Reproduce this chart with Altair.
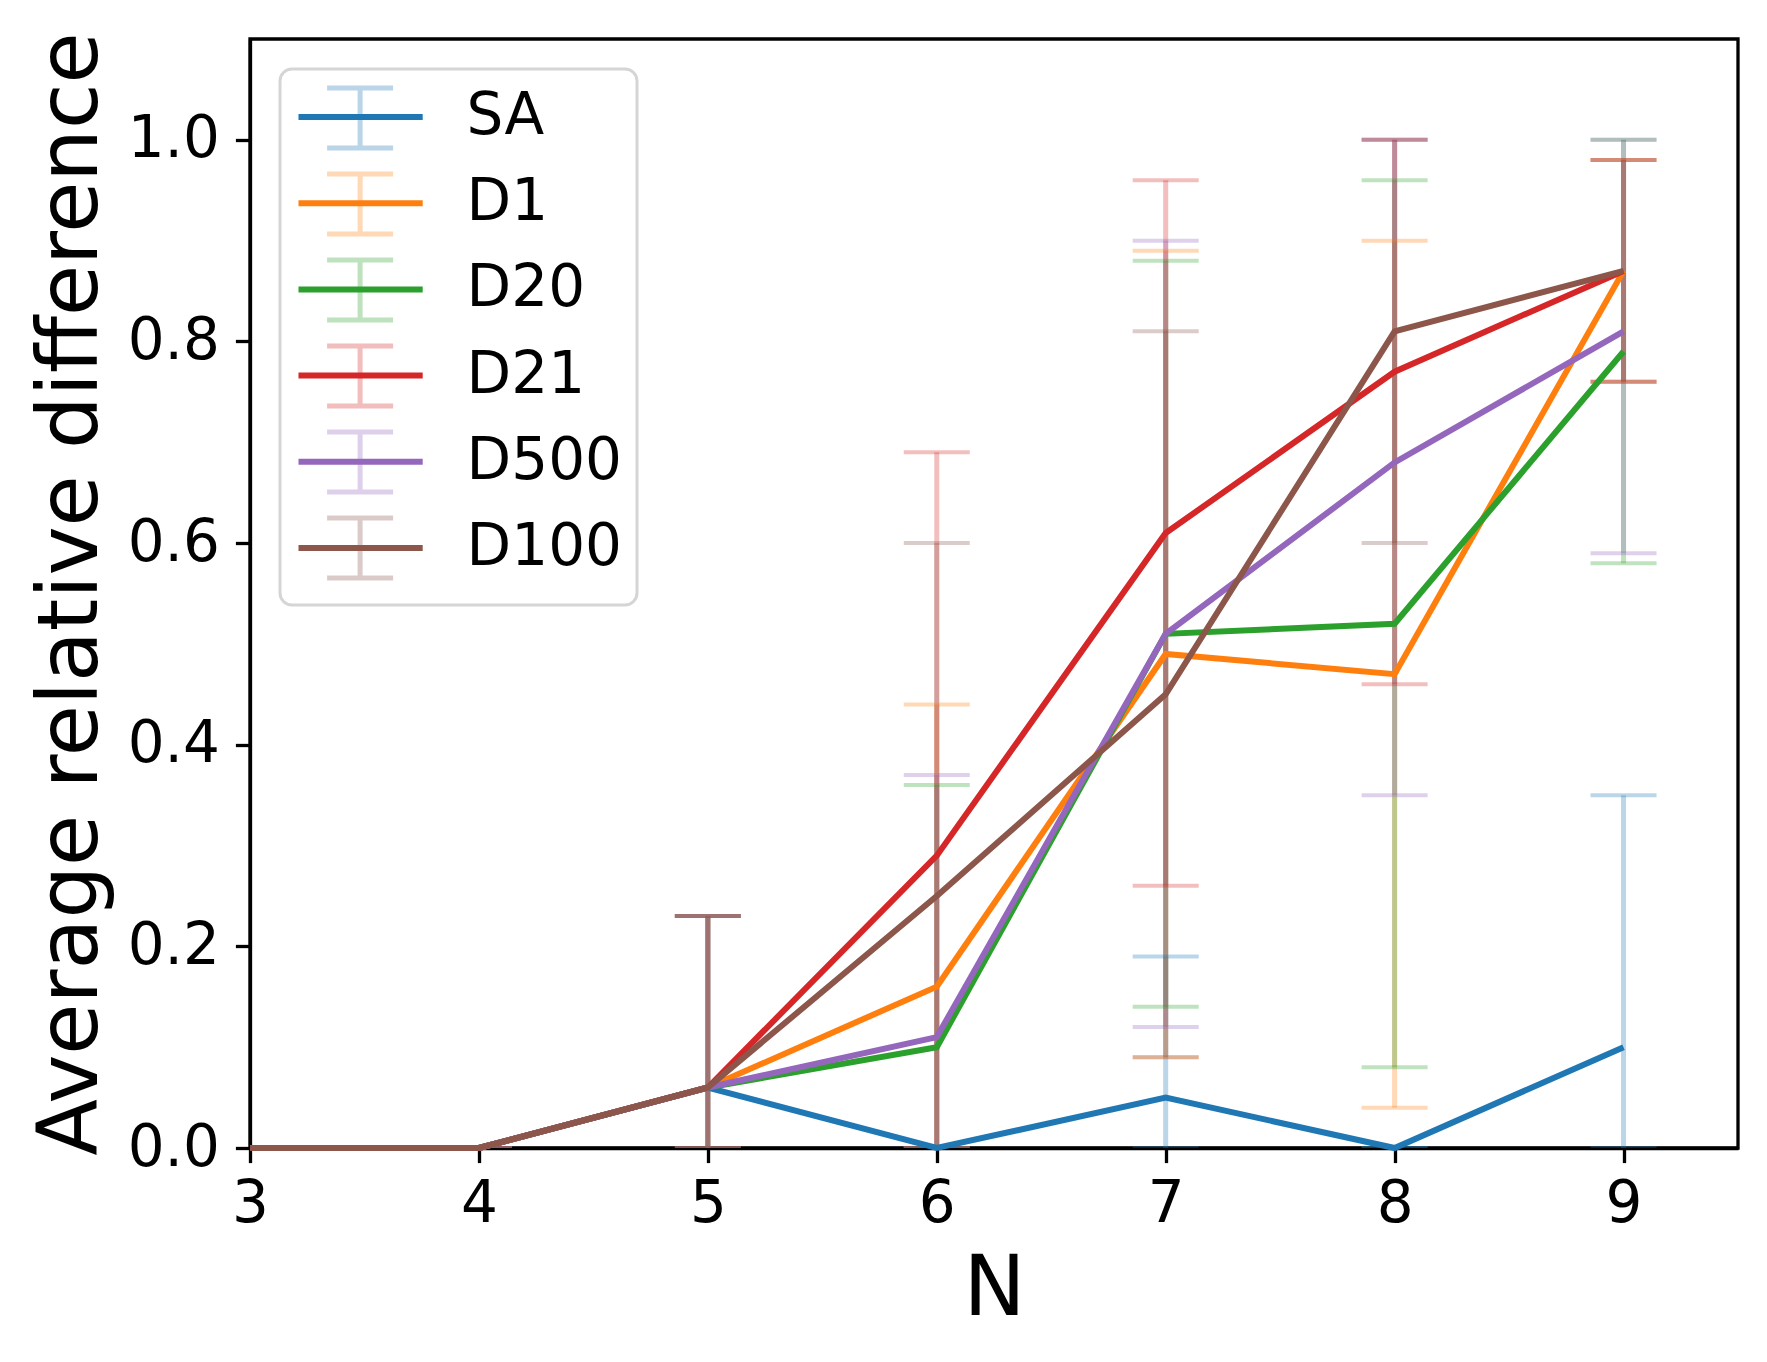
import altair as alt
import pandas as pd

# ---- data ----
N = [3, 4, 5, 6, 7, 8, 9]
series_names = ["SA", "D1", "D20", "D21", "D500", "D100"]
colors = ["#1f77b4", "#ff7f0e", "#2ca02c", "#d62728", "#9467bd", "#8c564b"]

mean_SA = [0.00, 0.00, 0.06, 0.00, 0.05, 0.00, 0.10]
lo_SA = [0.00, 0.00, 0.00, 0.00, 0.00, 0.00, 0.00]
hi_SA = [0.00, 0.00, 0.23, 0.00, 0.19, 0.00, 0.35]

mean_D1 = [0.00, 0.00, 0.06, 0.16, 0.49, 0.47, 0.87]
lo_D1 = [0.00, 0.00, 0.00, 0.00, 0.09, 0.04, 0.76]
hi_D1 = [0.00, 0.00, 0.23, 0.44, 0.89, 0.90, 0.98]

mean_D20 = [0.00, 0.00, 0.06, 0.10, 0.51, 0.52, 0.79]
lo_D20 = [0.00, 0.00, 0.00, 0.00, 0.14, 0.08, 0.58]
hi_D20 = [0.00, 0.00, 0.23, 0.36, 0.88, 0.96, 1.00]

mean_D21 = [0.00, 0.00, 0.06, 0.29, 0.61, 0.77, 0.87]
lo_D21 = [0.00, 0.00, 0.00, 0.00, 0.26, 0.46, 0.76]
hi_D21 = [0.00, 0.00, 0.23, 0.69, 0.96, 1.00, 0.98]

mean_D500 = [0.00, 0.00, 0.06, 0.11, 0.51, 0.68, 0.81]
lo_D500 = [0.00, 0.00, 0.00, 0.00, 0.12, 0.35, 0.59]
hi_D500 = [0.00, 0.00, 0.23, 0.37, 0.90, 1.00, 1.00]

mean_D100 = [0.00, 0.00, 0.06, 0.25, 0.45, 0.81, 0.87]
lo_D100 = [0.00, 0.00, 0.00, 0.00, 0.09, 0.60, 0.76]
hi_D100 = [0.00, 0.00, 0.23, 0.60, 0.81, 1.00, 0.98]

x_ticks = [3, 4, 5, 6, 7, 8, 9]
y_ticks = [0.0, 0.2, 0.4, 0.6, 0.8, 1.0]

means = [mean_SA, mean_D1, mean_D20, mean_D21, mean_D500, mean_D100]
los = [lo_SA, lo_D1, lo_D20, lo_D21, lo_D500, lo_D100]
his = [hi_SA, hi_D1, hi_D20, hi_D21, hi_D500, hi_D100]

rows = []
for k, name in enumerate(series_names):
    for n, m, lo, hi in zip(N, means[k], los[k], his[k]):
        rows.append({"series": name, "N": n, "mean": m, "lo": lo, "hi": hi, "k": k})
df = pd.DataFrame(rows)

FONT = "DejaVu Sans"
YTITLE = "Average relative difference"

color_scale = alt.Scale(domain=series_names, range=colors)
x_enc = alt.X("N:Q", scale=alt.Scale(domain=[3, 9.5], nice=False, zero=False),
              axis=alt.Axis(values=x_ticks, format="d", title="N",
                            labelPadding=13, titlePadding=15))
y_axis = alt.Axis(values=y_ticks, format=".1f", title=YTITLE, labelPadding=16,
                  titlePadding=14, titleAngle=270, titleBaseline="bottom")
y_scale = alt.Scale(domain=[0, 1.1], nice=False)

common_legend = dict(
    title=None, orient="none", legendX=30, legendY=30, direction="vertical",
    symbolSize=3600, labelFontSize=58, labelFont=FONT, labelColor="black",
)

err_legend = alt.Legend(
    symbolType="M0,-1V1M-1.1,-1H1.1M-1.1,1H1.1", symbolStrokeWidth=5,
    symbolOpacity=0.3, labelOpacity=0,
    padding=16.6, symbolOffset=31, labelOffset=73, rowPadding=5.0,
    **common_legend)
line_legend = alt.Legend(
    symbolType="M-2.07,0H2.07M0,-1M0,1", symbolStrokeWidth=6,
    strokeColor="#d5d5d5", cornerRadius=12,
    padding=15, symbolOffset=32.6, labelOffset=73, rowPadding=2.2,
    **common_legend)

base = alt.Chart(df)

bars = base.mark_rule(strokeWidth=5, opacity=0.3).encode(
    x=x_enc,
    y=alt.Y("lo:Q", scale=y_scale, axis=y_axis),
    y2="hi:Q",
    color=alt.Color("series:N", scale=color_scale, legend=err_legend),
)

caps = base.transform_fold(["lo", "hi"], as_=["bound", "val"]).mark_tick(
    orient="horizontal", size=66, thickness=4, opacity=0.3, clip=True
).encode(
    x=x_enc,
    y=alt.Y("val:Q", scale=y_scale, axis=y_axis),
    color=alt.Color("series:N", scale=color_scale, legend=None),
)

errors = alt.layer(bars, caps)

lines = base.mark_line(strokeWidth=6).encode(
    x=x_enc,
    y=alt.Y("mean:Q", scale=y_scale, axis=y_axis),
    color=alt.Color("series:N", scale=color_scale, legend=line_legend,
                    sort=series_names),
    order=alt.Order("N:Q"),
)

chart = alt.layer(errors, lines).resolve_scale(color="independent").properties(
    width=1488, height=1109,
    padding={"left": 22, "top": 23, "right": 5, "bottom": 5},
    background="white",
).configure_axis(
    labelFont=FONT, titleFont=FONT, labelFontSize=58, titleFontSize=83,
    titleFontWeight="normal", labelColor="black", titleColor="black",
    domainColor="black", tickColor="black", domainWidth=3.3, tickWidth=3.3,
    tickSize=14.6, grid=False, labelFlush=False,
).configure_legend(
    strokeWidth=3,
).configure_view(
    stroke="black", strokeWidth=3.3,
)

chart.save("out.html", embed_options={"renderer": "svg", "actions": False})
